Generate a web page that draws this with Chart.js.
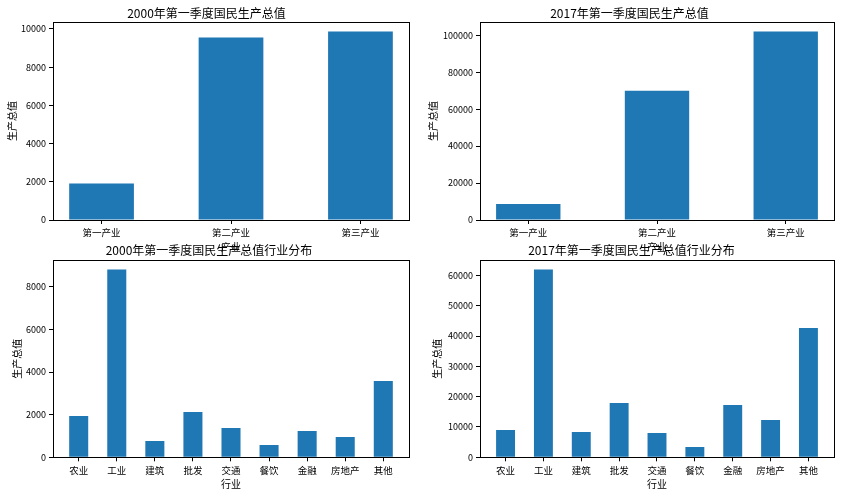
<!DOCTYPE html>
<html>
<head>
<meta charset="utf-8">
<script src="https://cdn.jsdelivr.net/npm/chart.js@4/dist/chart.umd.min.js"></script>
<style>
  body { margin: 0; background: #fff; }
  #wrap { position: relative; width: 841px; height: 495px; overflow: hidden; }
  canvas { position: absolute; }
</style>
</head>
<body>
<div id="wrap">
  <canvas id="c1" width="420" height="256" style="left:0;top:0"></canvas>
  <canvas id="c2" width="421" height="256" style="left:420px;top:0"></canvas>
  <canvas id="c3" width="420" height="257" style="left:0;top:238px"></canvas>
  <canvas id="c4" width="421" height="257" style="left:420px;top:238px"></canvas>
</div>
<script>
// data
const sectorLabels = ["第一产业", "第二产业", "第三产业"];
const sector2000 = [1908.8, 9548.0, 9872.0];
const sector2017 = [8654.7, 70004.5, 102036.0];

const industryLabels = ["农业", "工业", "建筑", "批发", "交通", "餐饮", "金融", "房地产", "其他"];
const industry2000 = [1937, 8816, 764, 2124, 1374, 577, 1233, 952, 3578];
const industry2017 = [9000, 61985, 8341, 17903, 8012, 3396, 17244, 12298, 42631];

Chart.defaults.font.family = '"Noto Sans CJK SC", "Noto Sans", sans-serif';
Chart.defaults.color = "#000";

// box around the plot area, like matplotlib spines
const framePlugin = {
  id: "frame",
  afterDraw(chart) {
    const a = chart.chartArea, ctx = chart.ctx;
    ctx.save();
    ctx.strokeStyle = "#000";
    ctx.lineWidth = 1;
    ctx.strokeRect(Math.round(a.left) + 0.5, Math.round(a.top) + 0.5,
      Math.round(a.right - a.left), Math.round(a.bottom - a.top));
    ctx.restore();
  }
};

function makeChart(id, cfg) {
  const n = cfg.labels.length;
  const margin = 0.05 * (n - 1 + 0.5);
  const yMax = Math.max(...cfg.values) * 1.05;
  return new Chart(id, {
    type: "bar",
    data: {
      datasets: [{
        data: cfg.values.map((v, i) => ({ x: i, y: v })),
        backgroundColor: "#1f77b4",
        borderWidth: 0,
        inflateAmount: 0,
        categoryPercentage: 1,
        barPercentage: 0.5,
      }],
    },
    options: {
      responsive: false,
      animation: false,
      events: [],
      layout: { padding: { left: cfg.padLeft, right: cfg.padRight, top: 0, bottom: 0 } },
      plugins: {
        legend: { display: false },
        tooltip: { enabled: false },
        title: {
          display: true,
          text: cfg.title,
          color: "#000",
          font: { size: 12, weight: "normal" },
          padding: { top: cfg.titleTop, bottom: cfg.titleBottom },
        },
      },
      scales: {
        x: {
          type: "linear",
          min: -0.25 - margin,
          max: n - 0.75 + margin,
          offset: false,
          border: { display: false },
          grid: { offset: false, drawOnChartArea: false, color: "#000", tickLength: 4 },
          ticks: {
            autoSkip: false,
            maxRotation: 0,
            padding: 3,
            font: { size: 9.5 },
            callback: (v) => cfg.labels[v],
          },
          afterBuildTicks: (axis) => {
            axis.ticks = cfg.labels.map((_, i) => ({ value: i }));
          },
          afterFit: (axis) => { axis.height = cfg.xHeight; },
          title: {
            display: true,
            text: cfg.xTitle,
            font: { size: 10 },
            padding: { top: 0, bottom: cfg.xTitleBottom },
          },
        },
        y: {
          min: 0,
          max: yMax,
          border: { display: false },
          grid: { drawOnChartArea: false, color: "#000", tickLength: 4 },
          ticks: {
            padding: 3,
            font: { size: 9 },
            callback: (v) => String(v),
          },
          afterBuildTicks: (axis) => {
            const t = [];
            for (let v = 0; v <= yMax; v += cfg.step) t.push({ value: v });
            axis.ticks = t;
          },
          afterFit: (axis) => { axis.width = cfg.yWidth; },
          title: {
            display: true,
            text: "生产总值",
            font: { size: 10 },
            padding: { top: 2, bottom: 0 },
          },
        },
      },
    },
    plugins: [framePlugin],
  });
}

makeChart("c1", {
  title: "2000年第一季度国民生产总值", labels: sectorLabels, values: sector2000,
  xTitle: "产业", step: 2000, padLeft: 4, padRight: 11, yWidth: 49,
  titleTop: 6, titleBottom: 1.6, xHeight: 36, xTitleBottom: 3,
});
makeChart("c2", {
  title: "2017年第一季度国民生产总值", labels: sectorLabels, values: sector2017,
  xTitle: "产业", step: 20000, padLeft: 5, padRight: 7, yWidth: 55,
  titleTop: 6, titleBottom: 1.6, xHeight: 36, xTitleBottom: 3,
});
makeChart("c3", {
  title: "2000年第一季度国民生产总值行业分布", labels: industryLabels, values: industry2000,
  xTitle: "行业", step: 2000, padLeft: 9, padRight: 11, yWidth: 44,
  titleTop: 5, titleBottom: 2.6, xHeight: 37.7, xTitleBottom: 4.5,
});
makeChart("c4", {
  title: "2017年第一季度国民生产总值行业分布", labels: industryLabels, values: industry2017,
  xTitle: "行业", step: 10000, padLeft: 9, padRight: 7, yWidth: 51,
  titleTop: 5, titleBottom: 2.6, xHeight: 37.7, xTitleBottom: 4.5,
});
</script>
</body>
</html>
